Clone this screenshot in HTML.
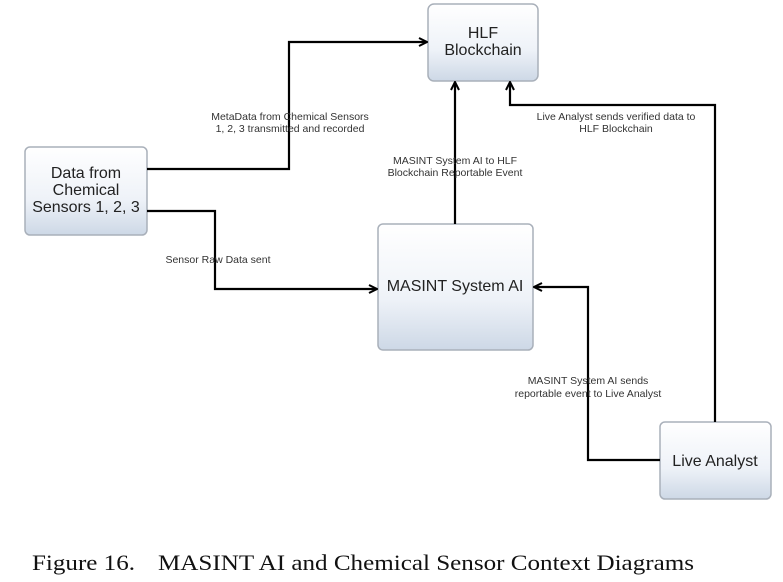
<!DOCTYPE html>
<html><head><meta charset="utf-8"><style>
html,body{margin:0;padding:0;background:#fff;}
svg{display:block;}
</style></head><body>
<svg width="783" height="582" viewBox="0 0 783 582" xmlns="http://www.w3.org/2000/svg">
<defs>
<linearGradient id="g" x1="0" y1="0" x2="0" y2="1">
<stop offset="0" stop-color="#ffffff"/>
<stop offset="0.6" stop-color="#eef2f8"/>
<stop offset="1" stop-color="#cdd8e6"/>
</linearGradient>
<marker id="a" markerWidth="10" markerHeight="10" refX="9" refY="5" orient="auto" markerUnits="userSpaceOnUse">
<path d="M1,1 L9,5 L1,9" fill="none" stroke="#000" stroke-width="2"/>
</marker>
</defs>
<g stroke="#a9b0ba" stroke-width="1.5" fill="url(#g)">
<rect x="428" y="4" width="110" height="77" rx="6"/>
<rect x="25" y="147" width="122" height="88" rx="5"/>
<rect x="378" y="224" width="155" height="126" rx="5"/>
<rect x="660" y="422" width="111" height="77" rx="5"/>
</g>
<g stroke="#000" stroke-width="2.2" fill="none">
<path d="M147,169 H289 V42 H427" marker-end="url(#a)"/>
<path d="M147,211 H215 V289 H377" marker-end="url(#a)"/>
<path d="M455,224 V82" marker-end="url(#a)"/>
<path d="M715,422 V105 H510 V82" marker-end="url(#a)"/>
<path d="M660,460 H588 V287 H534" marker-end="url(#a)"/>
</g>
<g font-family="Liberation Sans, sans-serif" fill="#222" text-anchor="middle">
<text x="483" y="38" font-size="16">HLF</text>
<text x="483" y="55" font-size="16">Blockchain</text>
<text x="86" y="178" font-size="16">Data from</text>
<text x="86" y="195" font-size="16">Chemical</text>
<text x="86" y="212" font-size="16">Sensors 1, 2, 3</text>
<text x="455" y="291" font-size="16">MASINT System AI</text>
<text x="715" y="466" font-size="16">Live Analyst</text>
<g font-size="10.5" fill="#333">
<text x="290" y="120">MetaData from Chemical Sensors</text>
<text x="290" y="132">1, 2, 3 transmitted and recorded</text>
<text x="455" y="164">MASINT System AI to HLF</text>
<text x="455" y="176">Blockchain Reportable Event</text>
<text x="616" y="120">Live Analyst sends verified data to</text>
<text x="616" y="132">HLF Blockchain</text>
<text x="218" y="263">Sensor Raw Data sent</text>
<text x="588" y="384">MASINT System AI sends</text>
<text x="588" y="397">reportable event to Live Analyst</text>
</g>
</g>
<g font-family="Liberation Serif, serif" font-size="22" fill="#111">
<text x="32" y="570" textLength="103" lengthAdjust="spacingAndGlyphs">Figure 16.</text>
<text x="158" y="570" textLength="536" lengthAdjust="spacingAndGlyphs">MASINT AI and Chemical Sensor Context Diagrams</text>
</g>
</svg>
</body></html>
